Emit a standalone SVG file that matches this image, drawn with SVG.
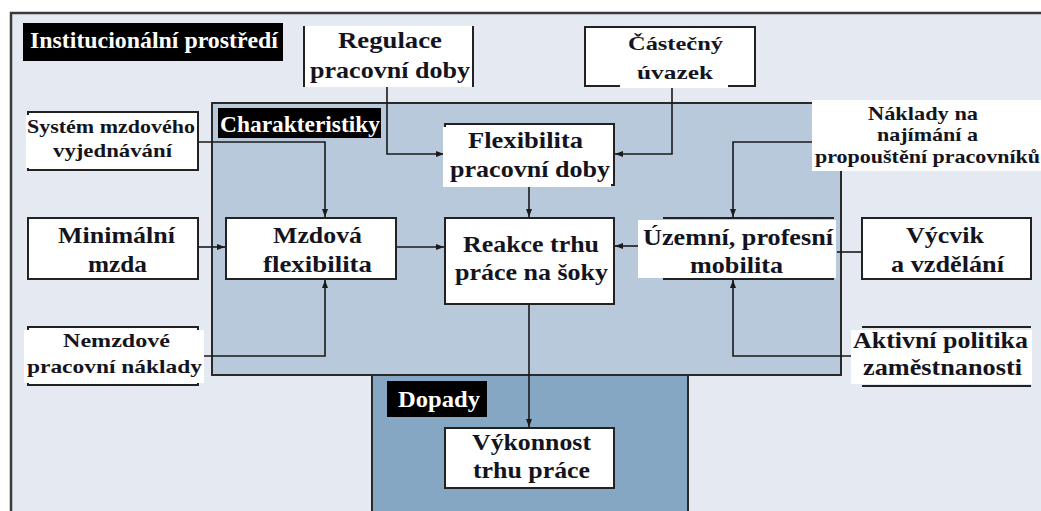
<svg xmlns="http://www.w3.org/2000/svg" width="1041" height="511" viewBox="0 0 1041 511">
<defs>
<style>
.t{font-family:"Liberation Serif","Times New Roman",serif;font-weight:bold;fill:#141420;font-size:23px}
.s{font-size:19px}
.w{fill:#ffffff}
.box{fill:#ffffff;stroke:#222;stroke-width:2}
.bg{fill:#ffffff}
.ln{fill:none;stroke:#222;stroke-width:2}
.c{fill:none;stroke:#1a1a1a;stroke-width:1.6}
.lbl{fill:#000}
</style>
<marker id="ah" viewBox="0 0 8 6" refX="8" refY="3" markerWidth="8" markerHeight="6" markerUnits="userSpaceOnUse" orient="auto">
<path d="M0,0 L8,3 L0,6 z" fill="#1a1a1a"/>
</marker>
</defs>
<rect x="0" y="0" width="1041" height="511" fill="#ffffff"/>
<!-- regions -->
<g id="institucionalni">
<rect x="11" y="13" width="1040" height="510" fill="#e4e9f2" stroke="#3a3a3a" stroke-width="2.5"/>
<rect x="23" y="23" width="260" height="38" class="lbl"/>
<text class="t w" x="30" y="48" textLength="248" lengthAdjust="spacingAndGlyphs" font-size="22">Institucionální prostředí</text>
</g>
<g id="dopady">
<rect x="372" y="375" width="316" height="150" fill="#86a7c4" stroke="#2a2a2a" stroke-width="2"/>
<rect x="387" y="381" width="100" height="36" class="lbl"/>
<text class="t w" x="398" y="407" textLength="82" lengthAdjust="spacingAndGlyphs">Dopady</text>
</g>
<g id="charakteristiky">
<rect x="212" y="103" width="629" height="272" fill="#b8c9db" stroke="#2a2a2a" stroke-width="2"/>
<rect x="218" y="108" width="163" height="30" class="lbl"/>
<text class="t w" x="220" y="132" textLength="160" lengthAdjust="spacingAndGlyphs" font-size="22">Charakteristiky</text>
</g>
<!-- connectors -->
<g id="connectors">
<path class="c" d="M387,87 V154 H444" marker-end="url(#ah)"/>
<path class="c" d="M672,87 V154 H615" marker-end="url(#ah)"/>
<path class="c" d="M198,142 H325 V217" marker-end="url(#ah)"/>
<path class="c" d="M198,247 H225" marker-end="url(#ah)"/>
<path class="c" d="M204,356 H325 V280" marker-end="url(#ah)"/>
<path class="c" d="M396,247 H444" marker-end="url(#ah)"/>
<path class="c" d="M529,186 V217" marker-end="url(#ah)"/>
<path class="c" d="M638,246 H615" marker-end="url(#ah)"/>
<path class="c" d="M812,142 H733 V217" marker-end="url(#ah)"/>
<path class="c" d="M862,252 H837"/>
<path class="c" d="M851,356 H733 V280" marker-end="url(#ah)"/>
<path class="c" d="M529,304 V427" marker-end="url(#ah)"/>
</g>
<!-- nodes -->
<g id="regulace">
<rect x="304" y="26" width="169" height="61" class="bg"/>
<path class="ln" d="M304,26 V87 M473,26 V87"/>
<text class="t" x="338" y="48" textLength="104" lengthAdjust="spacingAndGlyphs">Regulace</text>
<text class="t" x="310" y="78" textLength="160" lengthAdjust="spacingAndGlyphs">pracovní doby</text>
</g>
<g id="castecny">
<rect x="585" y="27" width="170" height="59" class="box"/>
<rect x="620" y="31" width="108" height="57" class="bg"/>
<text class="t s" x="628" y="50" textLength="95" lengthAdjust="spacingAndGlyphs">Částečný</text>
<text class="t s" x="637" y="79" textLength="76" lengthAdjust="spacingAndGlyphs">úvazek</text>
</g>
<g id="system">
<rect x="28" y="112" width="170" height="58" class="box"/>
<rect x="26" y="115" width="170" height="53" class="bg"/>
<text class="t s" x="27" y="133" textLength="168" lengthAdjust="spacingAndGlyphs" font-size="18">Systém mzdového</text>
<text class="t s" x="53" y="157" textLength="119" lengthAdjust="spacingAndGlyphs" font-size="18">vyjednávání</text>
</g>
<g id="flex-doby">
<rect x="445" y="124" width="169" height="61" class="box"/>
<rect x="443" y="127" width="168" height="60" class="bg"/>
<text class="t" x="468" y="148" textLength="115" lengthAdjust="spacingAndGlyphs">Flexibilita</text>
<text class="t" x="450" y="177" textLength="160" lengthAdjust="spacingAndGlyphs">pracovní doby</text>
</g>
<g id="naklady">
<rect x="812" y="100" width="229" height="71" class="bg"/>
<text class="t s" x="868" y="120" textLength="110" lengthAdjust="spacingAndGlyphs" font-size="18">Náklady na</text>
<text class="t s" x="877" y="141" textLength="101" lengthAdjust="spacingAndGlyphs" font-size="18">najímání a</text>
<text class="t s" x="815" y="163" textLength="225" lengthAdjust="spacingAndGlyphs" font-size="18">propouštění pracovníků</text>
</g>
<g id="minimalni">
<rect x="28" y="218" width="170" height="61" class="box"/>
<text class="t" x="58" y="243" textLength="117" lengthAdjust="spacingAndGlyphs">Minimální</text>
<text class="t" x="88" y="272" textLength="59" lengthAdjust="spacingAndGlyphs">mzda</text>
</g>
<g id="mzdova">
<rect x="226" y="218" width="170" height="61" class="box"/>
<text class="t" x="273" y="243" textLength="89" lengthAdjust="spacingAndGlyphs">Mzdová</text>
<text class="t" x="263" y="272" textLength="109" lengthAdjust="spacingAndGlyphs">flexibilita</text>
</g>
<g id="reakce">
<rect x="445" y="218" width="169" height="86" class="box"/>
<text class="t" x="463" y="252" textLength="136" lengthAdjust="spacingAndGlyphs">Reakce trhu</text>
<text class="t" x="455" y="280" textLength="153" lengthAdjust="spacingAndGlyphs">práce na šoky</text>
</g>
<g id="uzemni">
<rect x="638" y="220" width="198" height="58" class="bg"/>
<path class="ln" d="M663,218 H834 M663,279 H834"/>
<text class="t" x="643" y="245" textLength="190" lengthAdjust="spacingAndGlyphs">Územní, profesní</text>
<text class="t" x="690" y="273" textLength="93" lengthAdjust="spacingAndGlyphs">mobilita</text>
</g>
<g id="vycvik">
<rect x="862" y="218" width="169" height="61" class="box"/>
<text class="t" x="906" y="243" textLength="78" lengthAdjust="spacingAndGlyphs">Výcvik</text>
<text class="t" x="891" y="272" textLength="113" lengthAdjust="spacingAndGlyphs">a vzdělání</text>
</g>
<g id="nemzdove">
<rect x="28" y="327" width="170" height="58" class="box"/>
<rect x="24" y="330" width="180" height="53" class="bg"/>
<text class="t s" x="63" y="347" textLength="107" lengthAdjust="spacingAndGlyphs">Nemzdové</text>
<text class="t s" x="27" y="373" textLength="175" lengthAdjust="spacingAndGlyphs">pracovní náklady</text>
</g>
<g id="aktivni">
<rect x="851" y="330" width="181" height="54" class="bg"/>
<path class="ln" d="M862,327 H1031 M862,386 H1031"/>
<text class="t" x="853" y="348" textLength="175" lengthAdjust="spacingAndGlyphs">Aktivní politika</text>
<text class="t" x="863" y="375" textLength="159" lengthAdjust="spacingAndGlyphs">zaměstnanosti</text>
</g>
<g id="vykonnost">
<rect x="445" y="428" width="169" height="60" class="box"/>
<text class="t" x="472" y="450" textLength="119" lengthAdjust="spacingAndGlyphs">Výkonnost</text>
<text class="t" x="473" y="478" textLength="117" lengthAdjust="spacingAndGlyphs">trhu práce</text>
</g>
</svg>
